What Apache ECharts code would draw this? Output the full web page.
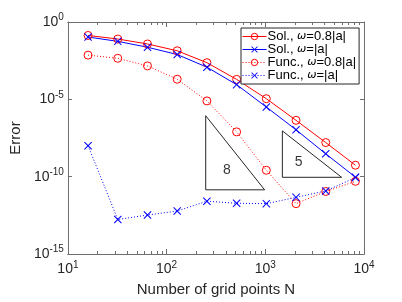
<!DOCTYPE html>
<html><head><meta charset="utf-8">
<script src="https://cdn.jsdelivr.net/npm/echarts@6/dist/echarts.min.js"></script>
<style>html,body{margin:0;padding:0;background:#fff}#c{width:402px;height:302px}</style>
</head><body><div id="c"></div>
<script>
const N = [16, 32, 64, 128, 256, 512, 1024, 2048, 4096, 8192];
const solA = [0.135, 0.0794, 0.038, 0.0138, 2.34e-3, 1.95e-4, 1.10e-5, 4.4e-7, 1.6e-8, 5.5e-10];
const solB = [0.107, 0.056, 0.0234, 7.9e-3, 1.2e-3, 8.9e-5, 3.2e-6, 1.07e-7, 3.0e-9, 9.3e-11];
const funcA = [7.2e-3, 4.5e-3, 1.45e-3, 2.0e-4, 7.9e-6, 7.9e-8, 2.6e-10, 1.8e-12, 1.1e-11, 5.0e-11];
const funcB = [1.0e-8, 1.7e-13, 3.3e-13, 6.0e-13, 2.6e-12, 1.9e-12, 1.8e-12, 4.6e-12, 1.2e-11, 8.7e-11];
const names = ['Sol., ω=0.8|a|', 'Sol., ω=|a|', 'Func., ω=0.8|a|', 'Func., ω=|a|'];
const tri8 = [[249, 8.7e-7], [249, 1.41e-11], [984, 1.41e-11], [249, 8.7e-7]];
const tri5 = [[1489, 9.1e-8], [1489, 9.1e-11], [5929, 9.1e-11], [1489, 9.1e-8]];
const triLabels = [[407, 2.6e-10, '8'], [2173, 9.3e-10, '5']];
const xMajor = [100, 1000];
const xMinor = [20,30,40,50,60,70,80,90,200,300,400,500,600,700,800,900,2000,3000,4000,5000,6000,7000,8000,9000];
const yTicks = [1e-15, 1e-10, 1e-5, 1];
const xLabels = [10, 100, 1000, 10000];

const FONT = 'Liberation Sans';
const AX = '#6e6e6e';
const RED = '#ff0000', BLUE = '#0000ff';
const styles = [[RED, false, false], [BLUE, false, true], [RED, true, false], [BLUE, true, true]];
const pair = a => N.map((n, i) => [n, a[i]]);
const crossPath = 'path://M0,0.9L0.9,0L5,4.1L9.1,0L10,0.9L5.9,5L10,9.1L9.1,10L5,5.9L0.9,10L0,9.1L4.1,5Z';
const sup = v => '{b|10}{s|' + Math.round(Math.log10(v)) + '}';
const richLbl = { b: { fontSize: 14, fontFamily: FONT, color: '#262626' }, s: { fontSize: 10, fontFamily: FONT, color: '#262626', padding: [0, 0, 9, 0] } };

function xAxisDef(pos, ticks, len, showLabel) {
  return {
    type: 'log', logBase: 10, min: 10, max: 10000, position: pos,
    axisLine: { show: true, lineStyle: { color: AX, width: 1 } },
    axisTick: { show: true, inside: true, length: len, customValues: ticks, lineStyle: { color: AX } },
    axisLabel: showLabel ? { show: true, customValues: xLabels, formatter: sup, rich: richLbl, margin: 6 } : { show: false },
    splitLine: { show: false }, minorTick: { show: false }
  };
}
function yAxisDef(pos, showLabel) {
  return {
    type: 'log', logBase: 10, min: 1e-15, max: 1, position: pos,
    axisLine: { show: true, lineStyle: { color: AX, width: 1 } },
    axisTick: { show: true, inside: true, length: 4, customValues: yTicks, lineStyle: { color: AX } },
    axisLabel: showLabel ? { show: true, customValues: yTicks, formatter: sup, rich: richLbl, margin: 4 } : { show: false },
    splitLine: { show: false }
  };
}
const itemStyleOf = (color, cross) => cross
  ? { color: color, borderWidth: 0 }
  : { color: 'rgba(0,0,0,0)', borderColor: color, borderWidth: 1 };

const lineSeries = (name, data, color, dotted, cross) => ({
  name, type: 'line', data: pair(data), xAxisIndex: 0, yAxisIndex: 0,
  symbol: cross ? crossPath : 'circle', symbolSize: 8,
  itemStyle: itemStyleOf(color, cross),
  lineStyle: { color, width: 1, type: dotted ? [1, 2] : 'solid' },
  emphasis: { disabled: true }, animation: false, z: 3
});
const triSeries = d => ({
  type: 'line', data: d, symbol: 'none', silent: true, animation: false,
  lineStyle: { color: '#262626', width: 1 }, z: 2
});

const chart = echarts.init(document.getElementById('c'));
chart.setOption({
  animation: false,
  grid: { left: 59, top: 22, right: 38, bottom: 44 },
  xAxis: [
    Object.assign(xAxisDef('bottom', xMajor, 5, true), { name: 'Number of grid points N', nameLocation: 'middle', nameGap: 28, nameTextStyle: { fontSize: 15, fontFamily: FONT, color: '#262626' } }),
    xAxisDef('bottom', xMinor, 3, false),
    xAxisDef('top', xMajor, 5, false),
    xAxisDef('top', xMinor, 3, false)
  ],
  yAxis: [
    Object.assign(yAxisDef('left', true), { name: 'Error', nameLocation: 'middle', nameGap: 44, nameTextStyle: { fontSize: 15, fontFamily: FONT, color: '#262626' } }),
    yAxisDef('right', false)
  ],
  legend: {
    orient: 'vertical', left: 241, top: 28, itemWidth: 24, itemHeight: 8, itemGap: 0,
    padding: [2, 3, 2, 1], backgroundColor: '#fff', borderColor: '#262626', borderWidth: 1,
    data: names.map((n, i) => ({ name: n, itemStyle: itemStyleOf(styles[i][0], styles[i][2]),
      lineStyle: { color: styles[i][0], width: 1, type: styles[i][1] ? [1, 2] : 'solid' } })),
    selectedMode: false,
    textStyle: { fontSize: 13, lineHeight: 13, fontFamily: FONT, color: '#000', padding: [0, 0, 0, -4],
      rich: { w: { fontSize: 11, lineHeight: 13, fontFamily: 'DejaVu Sans', fontStyle: 'italic', color: '#000' } } },
    formatter: n => n.replace('ω', '{w|ω}')
  },
  series: names.map((n, i) => lineSeries(n, [solA, solB, funcA, funcB][i], styles[i][0], styles[i][1], styles[i][2])).concat([
    triSeries(tri8), triSeries(tri5),
    { type: 'scatter', symbolSize: 0, silent: true, animation: false,
      data: triLabels.map(t => ({ value: [t[0], t[1]], label: { show: true, formatter: t[2], position: 'inside', fontSize: 14, fontFamily: FONT, color: '#000' } })) }
  ])
});
</script></body></html>
